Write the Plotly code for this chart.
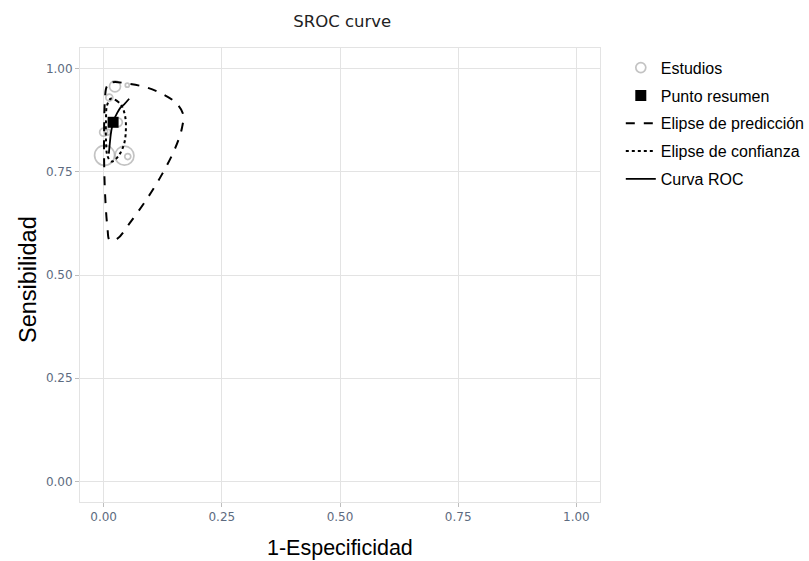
import plotly.graph_objects as go

# Study points (1-specificity, sensitivity, marker diameter)
study_fpr = [0.024, 0.050, 0.012, 0.000, 0.008, 0.030, 0.002, 0.044, 0.051]
study_sens = [0.957, 0.960, 0.930, 0.846, 0.846, 0.870, 0.790, 0.789, 0.787]
study_size = [11, 4, 7, 8, 6, 9, 20, 19, 6]

# Summary point
summary_fpr = [0.020]
summary_sens = [0.870]

# Prediction ellipse
pred_fpr = [0.008, 0.019, 0.054, 0.089, 0.124, 0.152, 0.168, 0.166, 0.152, 0.124,
            0.089, 0.054, 0.029, 0.013, 0.008, 0.003, 0.001, 0.001, 0.0025, 0.005, 0.008]
pred_sens = [0.959, 0.967, 0.963, 0.955, 0.939, 0.918, 0.890, 0.858, 0.809, 0.745,
             0.680, 0.624, 0.588, 0.584, 0.616, 0.697, 0.777, 0.858, 0.922, 0.951, 0.959]

# Confidence ellipse
conf_fpr = [0.015, 0.028, 0.039, 0.046, 0.047, 0.044, 0.036, 0.025, 0.016, 0.008,
            0.005, 0.005, 0.007, 0.015]
conf_sens = [0.927, 0.922, 0.908, 0.881, 0.850, 0.821, 0.797, 0.780, 0.775, 0.789,
             0.826, 0.874, 0.910, 0.927]

# SROC curve
roc_fpr = [0.054, 0.043, 0.036, 0.028, 0.022, 0.018, 0.015, 0.013, 0.011]
roc_sens = [0.927, 0.913, 0.906, 0.891, 0.877, 0.860, 0.840, 0.818, 0.794]

tick_vals = [0, 0.25, 0.5, 0.75, 1.0]
tick_text = ["0.00", "0.25", "0.50", "0.75", "1.00"]

fig = go.Figure()
fig.add_trace(go.Scatter(
    x=study_fpr, y=study_sens, mode="markers", name="Estudios", legendgroup="g1",
    marker=dict(symbol="circle-open", size=study_size, color="#a9a9a9",
                line=dict(width=1.7, color="#a9a9a9")),
))
fig.add_trace(go.Scatter(
    x=summary_fpr, y=summary_sens, mode="markers", name="Punto resumen", legendgroup="g2",
    marker=dict(symbol="square", size=11, color="black"),
))
fig.add_trace(go.Scatter(
    x=pred_fpr, y=pred_sens, mode="lines", name="Elipse de predicción", legendgroup="g3",
    line=dict(color="black", width=2, dash="dash", shape="spline"),
))
fig.add_trace(go.Scatter(
    x=conf_fpr, y=conf_sens, mode="lines", name="Elipse de confianza", legendgroup="g4",
    line=dict(color="black", width=2, dash="dot", shape="spline"),
))
fig.add_trace(go.Scatter(
    x=roc_fpr, y=roc_sens, mode="lines", name="Curva ROC", legendgroup="g5",
    line=dict(color="black", width=1.8, shape="spline"),
))

axis_common = dict(
    range=[-0.05, 1.05], tickvals=tick_vals, ticktext=tick_text,
    showgrid=True, gridcolor="#e3e3e3", gridwidth=1,
    zeroline=False, showline=True, linecolor="#e3e3e3", linewidth=1, mirror=True,
    ticks="outside", ticklen=4, tickcolor="#bdbdbd",
    tickfont=dict(family="DejaVu Sans", size=12, color="#5d6b80"),
)

fig.update_layout(
    width=809, height=561,
    margin=dict(l=80, r=209, t=48, b=59, autoexpand=False),
    paper_bgcolor="white", plot_bgcolor="white",
    title=dict(text="SROC curve", x=0.423, xanchor="center", y=0.963, yanchor="middle",
               font=dict(family="DejaVu Sans", size=16.5, color="#222")),
    xaxis=axis_common,
    yaxis=axis_common,
    showlegend=True,
    legend=dict(x=1.04, xanchor="left", y=0.994, yanchor="top",
                font=dict(family="Liberation Sans", size=16, color="black"),
                itemsizing="trace", tracegroupgap=4, itemwidth=30,
                bgcolor="rgba(0,0,0,0)"),
    annotations=[
        dict(text="Sensibilidad", x=-0.10, xref="paper", y=0.489, yref="paper",
             textangle=-90, showarrow=False, xanchor="center", yanchor="middle",
             font=dict(family="Liberation Sans", size=23.5, color="black")),
        dict(text="1-Especificidad", x=0.5, xref="paper", y=-0.101, yref="paper",
             showarrow=False, xanchor="center", yanchor="middle",
             font=dict(family="Liberation Sans", size=21.5, color="black")),
    ],
)

fig.write_html("out.html")
